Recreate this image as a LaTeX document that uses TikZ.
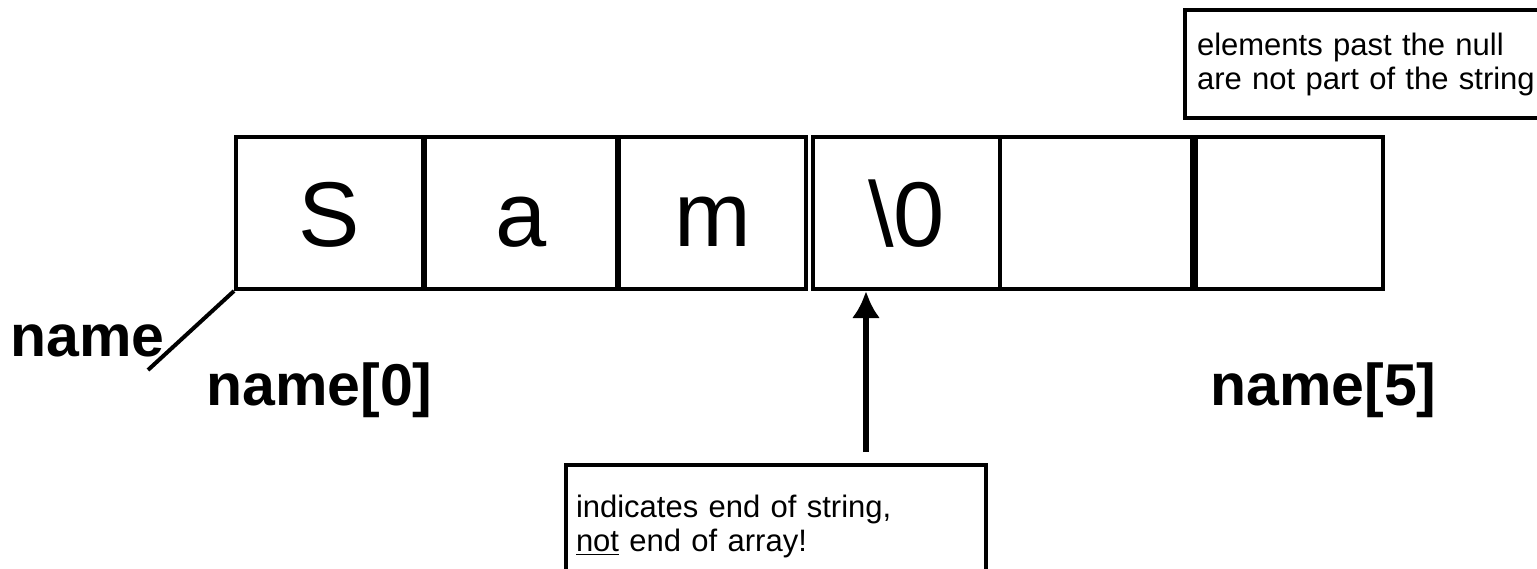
\documentclass[tikz,border=0pt]{standalone}
\usepackage{fontspec}
\setmainfont{Liberation Sans}
\usetikzlibrary{arrows.meta}
\tikzset{
  cell/.style={draw,line width=2pt,minimum width=93.5pt,minimum height=76pt,inner sep=0pt,
    text height=33pt,text depth=0pt,font=\fontsize{46}{54}\selectfont},
  widecell/.style={cell,minimum width=96pt},
  idx/.style={inner sep=0pt,anchor=base west,font=\fontsize{29.5}{35}\selectfont\bfseries},
  note/.style={draw,line width=2pt,align=left,inner xsep=6pt,font=\fontsize{15.5}{17}\selectfont},
}
\begin{document}
\begin{tikzpicture}[>={Latex[length=13.5pt,width=14pt]},x=0.5pt,y=-0.5pt]
  \useasboundingbox (0,0) rectangle (1537,568);
%%
  % Node: cells of the array
  \node (c0) [cell] at (329.5,213) {S};
  \node (c1) [widecell] at (521,213) {a};
  \node (c2) [cell] at (712.5,213) {m};
  \node (c3) [cell] at (906.5,213) {\textbackslash 0};
  \node (c4) [widecell] at (1096,213) {};
  \node (c5) [cell] at (1289.5,213) {};
  % Node: labels
  \node (lblname) [idx] at (10,356) {name};
  \node (lblfirst) [idx] at (206,405) {name[0]};
  \node (lbllast) [idx] at (1210,405) {name[5]};
  % Node: notes
  \node (nullnote) [note,anchor=north west,text width=180pt,minimum height=54pt] at (1183,8)
    {elements past the null\\are not part of the string};
  \node (endnote) [note,anchor=north west,text width=200pt,inner xsep=5pt,minimum height=61pt] at (564,463)
    {indicates end of string,\\\underline{not} end of array!};
  \coordinate (slashend) at (148,370);
  \coordinate (arrowtail) at (866,452);
  % Edge: name -> c0
  \draw [line width=2pt] (c0.south west) -- (slashend);
  % Edge: endnote -> c3
  \draw [->,line width=3pt] (arrowtail) -- (arrowtail |- c3.south);
%
\end{tikzpicture}
\end{document}
